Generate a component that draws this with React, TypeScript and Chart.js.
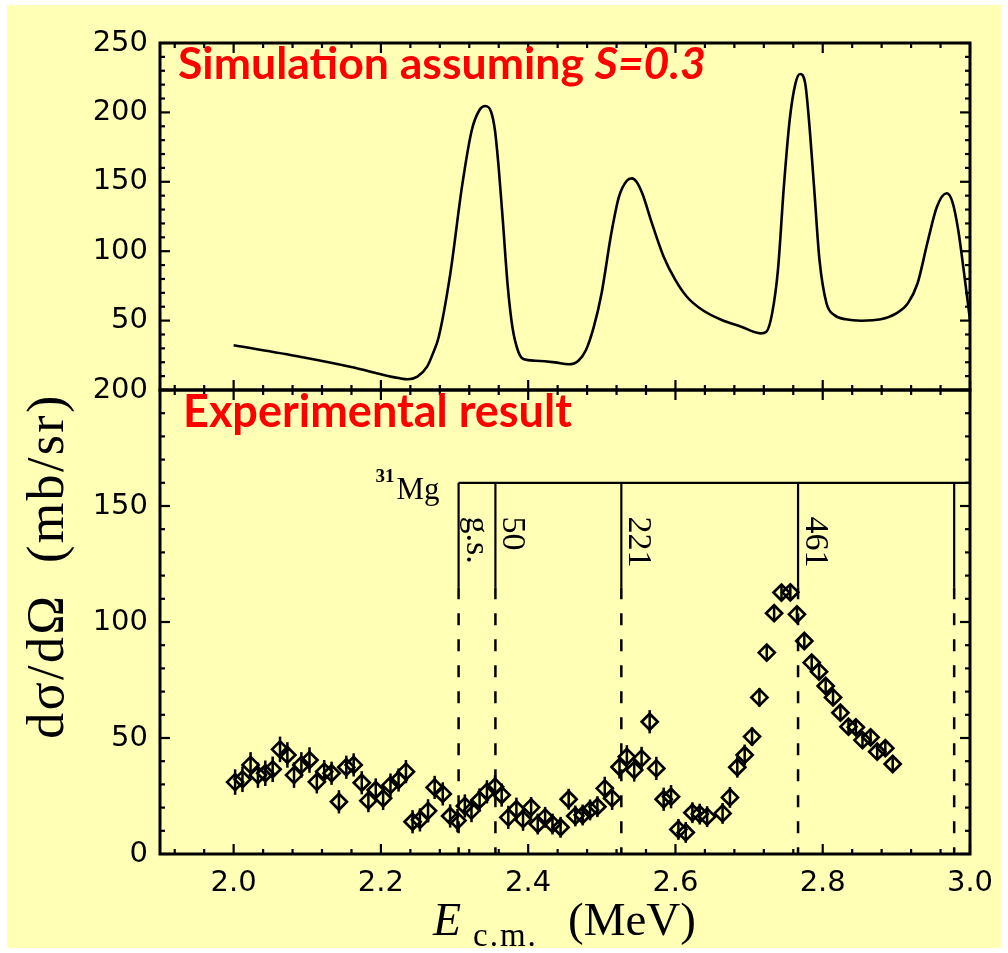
import React, { useEffect, useRef } from 'react';
import { Chart, registerables } from 'chart.js';

Chart.register(...registerables);

// ---------- Simulation (top panel) ----------
const simE = [2.000, 2.090, 2.158, 2.226, 2.2365, 2.2495, 2.2627, 2.2707, 2.2786, 2.2943, 2.3101, 2.3233, 2.3339, 2.3417, 2.3496, 2.3549, 2.3602, 2.3655, 2.3723, 2.3785, 2.3866, 2.3943, 2.4102, 2.4364, 2.4550, 2.4682, 2.4785, 2.4892, 2.4997, 2.5129, 2.5233, 2.5339, 2.5408, 2.5471, 2.5549, 2.5681, 2.5840, 2.5998, 2.6155, 2.6366, 2.6629, 2.6893, 2.7156, 2.7235, 2.7313, 2.7392, 2.7472, 2.7551, 2.7630, 2.7692, 2.7762, 2.7813, 2.7882, 2.7956, 2.8051, 2.8157, 2.8315, 2.8525, 2.8788, 2.8999, 2.9156, 2.9288, 2.9420, 2.9551, 2.9683, 2.9760, 2.9840, 2.9920, 3.000];
const simXS = [32.2, 24.0, 16.8, 8.4, 7.7, 9.6, 16.8, 26.4, 38.4, 84, 146.5, 187, 201.7, 204.6, 200.5, 187, 158.5, 122.5, 74.4, 45.6, 27.6, 22.1, 21.1, 19.9, 18.5, 21.1, 28.8, 45.6, 69.7, 112.9, 139.3, 150.8, 152.5, 150.1, 141.7, 120, 96, 79.3, 67.2, 57.6, 50.4, 45.6, 40.8, 42, 55.2, 86.5, 146.5, 194.5, 220.9, 227.7, 220.9, 194.5, 146.5, 93.7, 62.5, 54, 50.9, 49.9, 50.9, 55.2, 62.4, 76.9, 105.7, 132, 141.7, 135.7, 115.3, 84, 50.4];

// ---------- Experiment (bottom panel) ----------
const expE = [
  2.002, 2.012, 2.023, 2.033, 2.043, 2.053, 2.063, 2.073, 2.082, 2.092,
  2.103, 2.113, 2.123, 2.133, 2.143, 2.153, 2.163, 2.174, 2.183, 2.193,
  2.203, 2.213, 2.224, 2.234, 2.243, 2.253, 2.264, 2.273, 2.284, 2.294,
  2.304, 2.314, 2.323, 2.334, 2.344, 2.355, 2.364, 2.373, 2.384, 2.393,
  2.404, 2.413, 2.423, 2.433, 2.444, 2.455, 2.464, 2.474, 2.484, 2.494,
  2.504, 2.514, 2.524, 2.534, 2.544, 2.554, 2.565, 2.574, 2.584, 2.594,
  2.604, 2.614, 2.623, 2.633, 2.643, 2.664, 2.674, 2.684, 2.694, 2.704,
  2.714, 2.724, 2.734, 2.744, 2.756, 2.765, 2.775, 2.785, 2.795, 2.804,
  2.814, 2.824, 2.835, 2.845, 2.854, 2.865, 2.874, 2.885, 2.895];
const expXS = [
  31.0, 32.2, 38.4, 34.0, 34.8, 36.5, 45.1, 42.7, 34.0, 38.4,
  40.5, 31.1, 35.5, 34.8, 22.5, 37.4, 38.4, 30.7, 23.0, 27.6,
  24.0, 29.7, 31.9, 35.5, 13.9, 14.7, 18.6, 28.7, 25.9, 16.4,
  14.4, 20.7, 18.7, 23.3, 26.8, 29.0, 25.4, 15.8, 19.3, 15.0,
  20.1, 12.9, 15.8, 12.9, 11.5, 23.6, 16.4, 16.8, 19.0, 20.4,
  28.3, 24.0, 37.5, 41.9, 36.2, 41.2, 57.0, 36.9, 23.6, 24.7,
  10.6, 9.3, 17.8, 17.2, 16.1, 17.5, 24.4, 37.4, 42.7, 50.6,
  67.5, 86.8, 103.8, 112.7, 112.8, 103.3, 91.8, 82.5, 78.6, 72.4,
  67.5, 60.9, 54.9, 54.6, 49.1, 50.3, 44.1, 45.6, 38.8];
const expErr = [
  5.5, 5.5, 5.5, 5.5, 5.5, 5.5, 5.5, 5.5, 5.5, 5.5,
  5.5, 5, 5, 5, 5, 5, 5, 5, 5, 5,
  5, 5, 5, 5, 5, 5, 5, 5, 5, 5,
  5, 5, 5, 5, 5, 5, 5, 5, 5, 5,
  4.5, 4.5, 4.5, 4.5, 4.5, 4.5, 4.5, 4.5, 4.5, 4.5,
  5, 5, 5, 5, 5, 5, 5, 5, 5, 5,
  4.5, 4.5, 4.5, 4.5, 4.5, 4.5, 4.5, 4.5, 4.5, 4,
  4, 3.5, 3.5, 3.5, 3.5, 3.5, 3, 3, 3, 3,
  3, 3, 3, 3, 3, 3, 3, 3, 3];

// ---------- Axis ticks ----------
const xTicks = [2.0, 2.2, 2.4, 2.6, 2.8, 3.0];
const yTopTicks = [50, 100, 150, 200, 250];
const yBotTicks = [0, 50, 100, 150, 200];

// ---------- 31Mg level scheme ----------
const thresholdE = 2.3055;
const levelKeV = [0, 50, 221, 461, 673];
const levelLabels = ['g.s.', '50', '221', '461', ''];

const BG = '#FFFFB5';
const TICK_FONT = { family: '"DejaVu Sans"', size: 29 };

export default function App() {
  const ref = useRef<HTMLCanvasElement>(null);

  useEffect(() => {
    const canvas = ref.current!;

    const line = (ctx: CanvasRenderingContext2D, x1: number, y1: number, x2: number, y2: number) => {
      ctx.beginPath();
      ctx.moveTo(x1, y1);
      ctx.lineTo(x2, y2);
      ctx.stroke();
    };

    const drawPanel = (ctx: CanvasRenderingContext2D, xs: any, ys: any, vMax: number) => {
      const left = xs.left, right = xs.right, top = ys.top, bottom = ys.bottom;
      ctx.strokeStyle = '#000';
      ctx.lineWidth = 2.2;
      for (let v = 0; v <= vMax; v += 10) {
        const y = ys.getPixelForValue(v);
        const len = v % 50 === 0 ? 10 : 5;
        line(ctx, left, y, left + len, y);
        line(ctx, right, y, right - len, y);
      }
      for (let h = 192; h <= 300; h += 4) {
        const x = xs.getPixelForValue(h / 100);
        const len = (h - 200) % 20 === 0 ? 10 : 5;
        line(ctx, x, top, x, top + len);
        line(ctx, x, bottom, x, bottom - len);
      }
      ctx.lineWidth = 3;
      ctx.strokeRect(left, top, right - left, bottom - top);
    };

    const plugin = {
      id: 'decor',
      beforeDraw(chart: any) {
        const ctx = chart.ctx as CanvasRenderingContext2D;
        ctx.save();
        ctx.fillStyle = '#ffffff';
        ctx.fillRect(0, 0, chart.width, chart.height);
        ctx.fillStyle = BG;
        ctx.fillRect(7, 5, 994, 943);
        ctx.restore();
      },
      beforeDatasetsDraw(chart: any) {
        const ctx = chart.ctx as CanvasRenderingContext2D;
        const xs = chart.scales.x, yb = chart.scales.yBot;
        ctx.save();
        ctx.strokeStyle = '#000';
        ctx.lineWidth = 2.5;
        for (let i = 0; i < expE.length; i++) {
          const x = xs.getPixelForValue(expE[i]);
          line(ctx, x, yb.getPixelForValue(expXS[i] - expErr[i]), x, yb.getPixelForValue(expXS[i] + expErr[i]));
        }
        ctx.restore();
      },
      afterDraw(chart: any) {
        const ctx = chart.ctx as CanvasRenderingContext2D;
        const xs = chart.scales.x, yt = chart.scales.yTop, yb = chart.scales.yBot;
        ctx.save();
        drawPanel(ctx, xs, yt, 250);
        drawPanel(ctx, xs, yb, 200);

        // level scheme
        const x0 = xs.getPixelForValue(thresholdE);
        const yH = yb.getPixelForValue(160);
        const ySolid = yb.getPixelForValue(115);
        const yAxis = yb.getPixelForValue(0);
        ctx.strokeStyle = '#000';
        ctx.lineWidth = 2.2;
        line(ctx, x0, yH, xs.right, yH);
        levelKeV.forEach((k, i) => {
          const x = xs.getPixelForValue(thresholdE + k / 1000);
          ctx.setLineDash([]);
          ctx.lineWidth = 2.2;
          line(ctx, x, yH, x, ySolid);
          ctx.setLineDash([12, 14]);
          ctx.lineWidth = 2.5;
          line(ctx, x, ySolid, x, yAxis);
          ctx.setLineDash([]);
          if (levelLabels[i]) {
            ctx.save();
            ctx.translate(x + 8, yb.getPixelForValue(145.5));
            ctx.rotate(Math.PI / 2);
            ctx.fillStyle = '#000';
            ctx.font = '34px "Liberation Serif"';
            ctx.textAlign = 'left';
            ctx.textBaseline = 'alphabetic';
            ctx.fillText(levelLabels[i], 0, 0);
            ctx.restore();
          }
        });
        // 31Mg
        ctx.fillStyle = '#000';
        ctx.textBaseline = 'alphabetic';
        ctx.textAlign = 'right';
        ctx.font = '31px "Liberation Serif"';
        const mgRight = x0 - 19;
        const mgBase = yb.getPixelForValue(153);
        ctx.fillText('Mg', mgRight, mgBase);
        const mgW = ctx.measureText('Mg').width;
        ctx.font = 'bold 19px "Liberation Serif"';
        ctx.fillText('31', mgRight - mgW - 2, mgBase - 17);

        // Titles
        ctx.textAlign = 'left';
        ctx.fillStyle = '#FF0000';
        const p1 = 'Simulation assuming ', p2 = 'S=0.3';
        ctx.font = 'bold 100px Lato';
        const w1 = ctx.measureText(p1).width;
        ctx.font = 'italic bold 100px Lato';
        const w2 = ctx.measureText(p2).width;
        const s1 = (100 * 528) / (w1 + w2);
        ctx.font = `bold ${s1}px Lato`;
        ctx.fillText(p1, 178, 79);
        const ww = ctx.measureText(p1).width;
        ctx.font = `italic bold ${s1}px Lato`;
        ctx.fillText(p2, 178 + ww, 79);

        const p3 = 'Experimental result';
        ctx.font = 'bold 100px Lato';
        const w3 = ctx.measureText(p3).width;
        const s3 = (100 * 389) / w3;
        ctx.font = `bold ${s3}px Lato`;
        ctx.fillText(p3, 183, 427);

        // Y title
        ctx.fillStyle = '#000';
        const yTitle = 'dσ/dΩ  (mb/sr)';
        ctx.font = '52px "Liberation Serif"';
        const wy = ctx.measureText(yTitle).width;
        const spacing = Math.max(0, (343 - wy) / (yTitle.length - 1));
        ctx.save();
        ctx.translate(63, 566);
        ctx.rotate(-Math.PI / 2);
        (ctx as any).letterSpacing = `${spacing}px`;
        ctx.textAlign = 'center';
        ctx.fillText(yTitle, 0, 0);
        (ctx as any).letterSpacing = '0px';
        ctx.restore();

        // X title
        ctx.textAlign = 'left';
        ctx.font = 'italic 46px "Liberation Serif"';
        ctx.fillText('E', 433, 935);
        ctx.font = '33px "Liberation Serif"';
        (ctx as any).letterSpacing = '2px';
        ctx.fillText('c.m.', 473, 946);
        (ctx as any).letterSpacing = '0px';
        ctx.font = '47px "Liberation Serif"';
        ctx.fillText('(MeV)', 568, 935);
        ctx.restore();
      },
    };

    const chart = new Chart(canvas, {
      type: 'line',
      data: {
        datasets: [
          {
            label: 'sim',
            data: simE.map((e, i) => ({ x: e, y: simXS[i] })),
            xAxisID: 'x',
            yAxisID: 'yTop',
            borderColor: '#000',
            borderWidth: 2.6,
            pointRadius: 0,
            cubicInterpolationMode: 'monotone',
            fill: false,
          },
          {
            label: 'exp',
            data: expE.map((e, i) => ({ x: e, y: expXS[i] })),
            xAxisID: 'x',
            yAxisID: 'yBot',
            showLine: false,
            pointStyle: 'rectRot',
            pointRadius: 8,
            pointBorderWidth: 2.7,
            pointBorderColor: '#000',
            pointBackgroundColor: 'rgba(0,0,0,0)',
          },
        ],
      },
      options: {
        responsive: false,
        devicePixelRatio: 1,
        animation: false,
        layout: { padding: { left: 0, top: 43, right: 38, bottom: 0 } },
        plugins: { legend: { display: false }, tooltip: { enabled: false } },
        scales: {
          x: {
            type: 'linear',
            position: 'bottom',
            min: 1.9,
            max: 3.0,
            grid: { display: false, drawTicks: false },
            border: { display: false },
            ticks: {
              font: TICK_FONT,
              color: '#000',
              padding: 12,
              autoSkip: false,
              maxRotation: 0,
              callback: (v: any) => Number(v).toFixed(1),
            },
            afterBuildTicks: (s: any) => { s.ticks = xTicks.map((v) => ({ value: v })); },
            afterFit: (s: any) => { s.height = 99; },
          },
          yBot: {
            type: 'linear',
            position: 'left',
            stack: 'panels',
            stackWeight: 464,
            min: 0,
            max: 200,
            grid: { display: false, drawTicks: false },
            border: { display: false },
            ticks: { font: TICK_FONT, color: '#000', padding: 12, autoSkip: false },
            afterBuildTicks: (s: any) => { s.ticks = yBotTicks.map((v) => ({ value: v })); },
            afterFit: (s: any) => { s.width = 160; },
          },
          yTop: {
            type: 'linear',
            position: 'left',
            stack: 'panels',
            stackWeight: 347,
            min: 0,
            max: 250,
            grid: { display: false, drawTicks: false },
            border: { display: false },
            ticks: { font: TICK_FONT, color: '#000', padding: 12, autoSkip: false },
            afterBuildTicks: (s: any) => { s.ticks = yTopTicks.map((v) => ({ value: v })); },
            afterFit: (s: any) => { s.width = 160; },
          },
        },
      } as any,
      plugins: [plugin as any],
    });

    return () => chart.destroy();
  }, []);

  return (
    <div style={{ position: 'absolute', left: 0, top: 0, width: 1008, height: 953 }}>
      <canvas ref={ref} width={1008} height={953} style={{ display: 'block', width: 1008, height: 953 }} />
    </div>
  );
}
